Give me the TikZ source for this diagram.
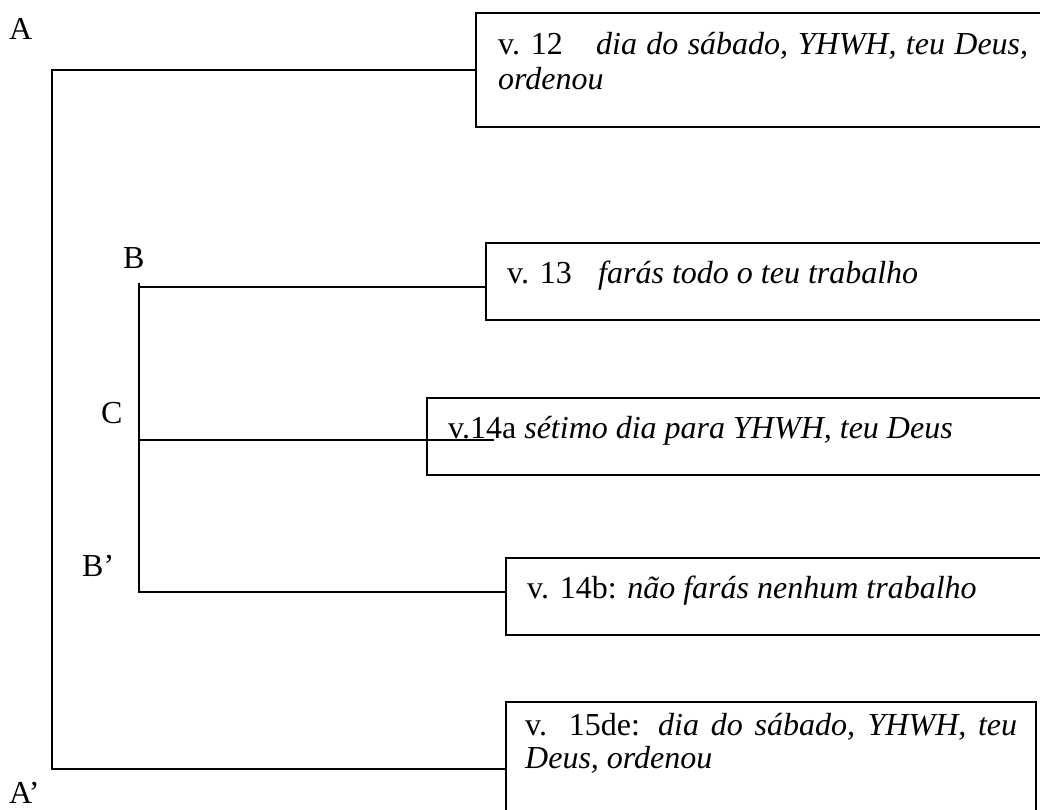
\documentclass[tikz,border=0pt]{standalone}
\usepackage{fontspec}
\setmainfont{Liberation Serif}
\begin{document}
\begin{tikzpicture}[x=1pt,y=-1pt,
  box/.style={draw, line width=1.8pt, anchor=north west, inner sep=0pt, outer sep=0pt},
  link/.style={line width=1.5pt},
  lbl/.style={anchor=base west, inner sep=0pt, font=\fontsize{32}{35}\selectfont},
  txt/.style={anchor=base west, inner sep=0pt, font=\fontsize{32}{35}\selectfont}]
\useasboundingbox (0,0) rectangle (1040,809);
\clip (0,0) rectangle (1040,809);

% boxes (open past the page edge)
\node[box, minimum width=624pt, minimum height=114pt] (b1) at (476,13) {};
\node[box, minimum width=614pt, minimum height=77pt]  (b2) at (486,243) {};
\node[box, minimum width=673pt, minimum height=77pt]  (b3) at (427,398) {};
\node[box, minimum width=594pt, minimum height=77pt]  (b4) at (506,558) {};
\node[box, minimum width=530pt, minimum height=148pt] (b5) at (506,702) {};

% box texts
\node[txt] (t1a) at (498,54) {v. 12};
\node[txt] (t1b) at (596,54) {\makebox[432pt][s]{\textit{dia do sábado, YHWH, teu Deus,}}};
\node[txt] (t1c) at (498,89) {\textit{ordenou}};
\node[txt] (t2a) at (507,283) {v. 13};
\node[txt] (t2b) at (598,283) {\textit{farás todo o teu trabalho}};
\node[txt] (t3)  at (448,438) {v.14a \textit{sétimo dia para YHWH, teu Deus}};
\node[txt] (t4)  at (527,598) {v. 14b: \textit{não farás nenhum trabalho}};
\node[txt] (t5a) at (525,735) {\makebox[492pt][s]{v. 15de: \textit{dia do sábado, YHWH, teu}}};
\node[txt] (t5b) at (525,768) {\textit{Deus, ordenou}};

% level labels
\node[lbl] (la)  at (9,39)   {A};
\node[lbl] (lb)  at (123,268) {B};
\node[lbl] (lc)  at (101,423) {C};
\node[lbl] (lb2) at (82,576) {B’};
\node[lbl] (la2) at (9,803)  {A’};

% outer bracket A / A'
\coordinate (ja)  at (52,70);
\coordinate (ja2) at (52,769);
\draw[link] (b1.west) -- (ja) -- (ja2) -- (ja2 -| b5.west);

% inner bracket B / C / B'
\coordinate (jtop) at (139,283);
\coordinate (jb)   at (139,287);
\coordinate (jc)   at (139,440);
\coordinate (cend) at (494,440);
\coordinate (jb2)  at (139,592);
\draw[link] (jtop) -- (jb2) -- (jb2 -| b4.west);
\draw[link] (jb) -- (jb -| b2.west);
\draw[link] (jc) -- (cend);
\end{tikzpicture}
\end{document}
